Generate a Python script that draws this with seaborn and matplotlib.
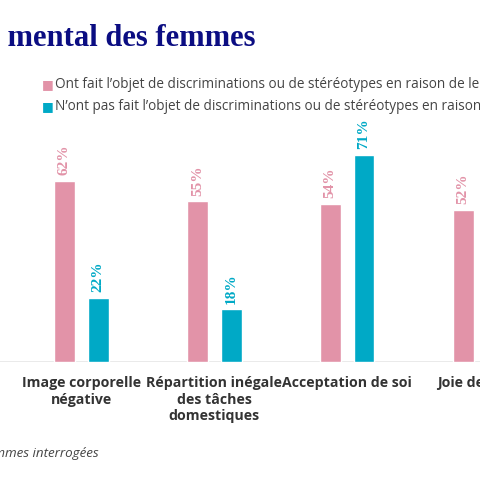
import matplotlib
matplotlib.use("Agg")
import matplotlib.pyplot as plt
import seaborn as sns
import pandas as pd

categories = ["Image corporelle\nnégative", "Répartition inégale\ndes tâches\ndomestiques",
              "Acceptation de soi", "Joie de vivre"]
series = ["Ont fait l’objet de discriminations ou de stéréotypes en raison de leur sexe",
          "N’ont pas fait l’objet de discriminations ou de stéréotypes en raison de leur sexe"]
discri = [62, 55, 54, 52]
non_discri = [22, 18, 71, 40]
colors = ["#e293a8", "#00a9c6"]

df = pd.DataFrame({
    "cat": categories * 2,
    "grp": [series[0]] * 4 + [series[1]] * 4,
    "val": discri + non_discri,
})

sns.set_theme(style="white")
fig = plt.figure(figsize=(4.8, 4.8), dpi=100)
ax = fig.add_axes([0, 118 / 480, 1, 262 / 480])
sns.barplot(data=df, x="cat", y="val", hue="grp", palette=colors, order=categories,
            hue_order=series, width=0.508, gap=0.38, ax=ax, legend=False, saturation=1)
ax.set_xlim((0 - 82) / 134, (480 - 82) / 134)
ax.set_ylim(0, 262 / 2.92)
for s in ax.spines.values():
    s.set_visible(False)
ax.axhline(0, color="#e6e6e6", lw=1.2, zorder=0)
ax.set_yticks([])
ax.set_xlabel("")
ax.set_ylabel("")
ax.tick_params(axis="x", length=0, pad=10)
ax.set_xticks(range(len(categories)))
ax.set_xticklabels(categories, fontfamily="Open Sans", fontweight="bold", fontsize=10.2,
                   color="#333333", linespacing=1.25, va="top")

for cont, col in zip(ax.containers, colors):
    for p in cont:
        h = p.get_height()
        ax.text(p.get_x() + p.get_width() / 2, h + 2, f"{h:.0f}%", rotation=90,
                ha="center", va="bottom", color=col, fontsize=11, fontweight="bold",
                fontfamily="Liberation Serif")

fig.text(256 / 480, 1 - 38 / 480, "Le mental des femmes", ha="right", va="center",
         fontsize=22, fontweight="bold", fontfamily="Liberation Serif", color="#0b0d82")
for i, (lab, col) in enumerate(zip(series, colors)):
    y = 1 - (85 + i * 21.5) / 480
    fig.text(42 / 480, y, "■", color=col, fontsize=9, va="center", ha="left")
    fig.text(55 / 480, y, lab, color="#444444", fontsize=9.8, va="center", ha="left",
             fontfamily="Open Sans")
fig.text(99 / 480, 1 - 453 / 480, "Base : ensemble des femmes interrogées", ha="right",
         va="center", fontsize=9.6, style="italic", color="#444444", fontfamily="Open Sans")

fig.savefig("out.png", dpi=100)
